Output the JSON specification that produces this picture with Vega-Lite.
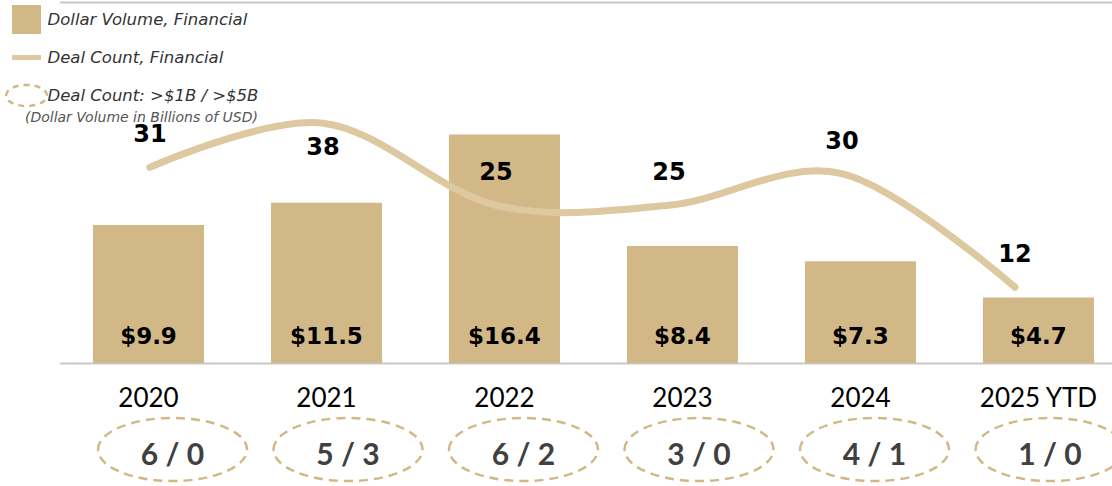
{
  "$schema": "https://vega.github.io/schema/vega-lite/v6.json",
  "padding": {"left": 11.5, "top": 2, "right": 0, "bottom": 0},
  "background": "white",
  "config": {
    "view": {"stroke": null},
    "font": "Lato",
    "legend": {
      "orient": "none", "legendX": -47.5, "legendY": 3, "padding": 0,
      "titleOrient": "bottom", "titleAnchor": "end",
      "titleFont": "DejaVu Sans", "titleFontSize": 14, "titleFontStyle": "italic", "titleFontWeight": "normal", "titleColor": "#555555", "titlePadding": 0, "titleLimit": 500,
      "labelFont": "DejaVu Sans", "labelFontSize": 16.5, "labelFontStyle": "italic", "labelColor": "#333333", "labelOffset": 6.5, "labelLimit": 400,
      "symbolSize": 676, "rowPadding": 2, "symbolOpacity": 1, "symbolStrokeWidth": 2.5, "gridAlign": "all"
    }
  },
  "datasets": {
    "deals": [
      {"year": "2020", "volume": 9.9, "count": 31, "big": "6 / 0"},
      {"year": "2021", "volume": 11.5, "count": 38, "big": "5 / 3"},
      {"year": "2022", "volume": 16.4, "count": 25, "big": "6 / 2"},
      {"year": "2023", "volume": 8.4, "count": 25, "big": "3 / 0"},
      {"year": "2024", "volume": 7.3, "count": 30, "big": "4 / 1"},
      {"year": "2025 YTD", "volume": 4.7, "count": 12, "big": "1 / 0"}
    ],
    "legend": [
      {"series": "Dollar Volume, Financial"},
      {"series": "Deal Count, Financial"},
      {"series": "Deal Count: >$1B / >$5B"}
    ]
  },
  "spacing": 1,
  "vconcat": [
    {
      "width": 1053,
      "height": 361,
      "layer": [
        {
          "data": {"name": "deals"},
          "encoding": {
            "x": {
              "field": "year", "type": "ordinal", "sort": null,
              "scale": {"paddingInner": 0.376, "paddingOuter": 0.146, "align": 0.644},
              "axis": {"title": null, "labelAngle": 0, "labelFont": "Lato", "labelFontSize": 26, "labelColor": "#000000", "labelPadding": 22, "ticks": false, "domainColor": "#C8C8C8", "domainWidth": 2}
            }
          },
          "layer": [
            {
              "mark": {"type": "bar", "color": "#D3B887"},
              "encoding": {
                "y": {
                  "field": "volume", "type": "quantitative",
                  "scale": {"domain": [0, 25.9], "nice": false},
                  "axis": {"title": null, "values": [25.9], "grid": true, "gridColor": "#C8C8C8", "gridWidth": 2, "labels": false, "ticks": false, "domain": false}
                }
              }
            },
            {
              "mark": {"type": "text", "font": "DejaVu Sans", "fontSize": 23, "fontWeight": "bold", "color": "#000000", "baseline": "middle", "dy": -26},
              "encoding": {
                "y": {"datum": 0, "type": "quantitative"},
                "text": {"field": "volume", "type": "quantitative", "format": "$.1f"}
              }
            }
          ]
        },
        {
          "data": {"name": "deals"},
          "encoding": {
            "x": {
              "field": "year", "type": "ordinal", "sort": null,
              "scale": {"type": "point", "padding": 0.543, "align": 0.481},
              "axis": null
            },
            "y": {
              "field": "count", "type": "quantitative",
              "scale": {"domain": [0, 57.2], "nice": false},
              "axis": null
            }
          },
          "layer": [
            {
              "mark": {"type": "line", "interpolate": "cardinal", "color": "#DDC8A0", "strokeWidth": 7, "strokeCap": "round"}
            },
            {
              "transform": [{"filter": "datum.year !== '2021'"}],
              "mark": {"type": "text", "font": "DejaVu Sans", "fontSize": 24, "fontWeight": "bold", "color": "#000000", "baseline": "middle", "dy": -32},
              "encoding": {"text": {"field": "count", "type": "quantitative"}}
            },
            {
              "transform": [{"filter": "datum.year === '2021'"}],
              "mark": {"type": "text", "font": "DejaVu Sans", "fontSize": 24, "fontWeight": "bold", "color": "#000000", "baseline": "middle", "dy": 25},
              "encoding": {"text": {"field": "count", "type": "quantitative"}}
            }
          ]
        },
        {
          "data": {"name": "legend"},
          "mark": {"type": "point", "opacity": 0, "strokeWidth": 2.5},
          "encoding": {
            "shape": {
              "field": "series", "type": "nominal", "sort": null,
              "scale": {
                "domain": ["Dollar Volume, Financial", "Deal Count, Financial", "Deal Count: >$1B / >$5B"],
                "range": [
                  "M -1.115 -1.115 H 1.115 V 1.115 H -1.115 Z",
                  "M -1.115 -0.19 H 1.115 V 0.19 H -1.115 Z",
                  "M -1.577 0 C -1.577 -0.447 -0.871 -0.81 0 -0.81 C 0.871 -0.81 1.577 -0.447 1.577 0 C 1.577 0.447 0.871 0.81 0 0.81 C -0.871 0.81 -1.577 0.447 -1.577 0 Z"
                ]
              },
              "legend": {"title": "(Dollar Volume in Billions of USD)"}
            },
            "fill": {
              "field": "series", "type": "nominal", "sort": null,
              "scale": {
                "domain": ["Dollar Volume, Financial", "Deal Count, Financial", "Deal Count: >$1B / >$5B"],
                "range": ["#D3B887", "#DDC8A0", "transparent"]
              },
              "legend": {"title": "(Dollar Volume in Billions of USD)"}
            },
            "stroke": {
              "field": "series", "type": "nominal", "sort": null,
              "scale": {
                "domain": ["Dollar Volume, Financial", "Deal Count, Financial", "Deal Count: >$1B / >$5B"],
                "range": ["transparent", "transparent", "#D3B887"]
              },
              "legend": {"title": "(Dollar Volume in Billions of USD)"}
            },
            "strokeDash": {
              "field": "series", "type": "nominal", "sort": null,
              "scale": {
                "domain": ["Dollar Volume, Financial", "Deal Count, Financial", "Deal Count: >$1B / >$5B"],
                "range": [[1, 0], [1, 0], [6, 5]]
              },
              "legend": {"title": "(Dollar Volume in Billions of USD)"}
            }
          }
        }
      ],
      "resolve": {"scale": {"x": "independent", "y": "independent"}}
    },
    {
      "width": 1053,
      "height": 63,
      "data": {"name": "deals"},
      "encoding": {
        "x": {
          "field": "year", "type": "ordinal", "sort": null,
          "scale": {"paddingInner": 0.376, "paddingOuter": 0.146, "align": 0.644},
          "axis": null
        }
      },
      "layer": [
        {
          "mark": {"type": "point", "shape": "M -1 0 A 1 0.423 0 1 1 1 0 A 1 0.423 0 1 1 -1 0 Z", "size": 22201, "filled": false, "stroke": "#D3B887", "strokeWidth": 2.5, "strokeDash": [9, 6], "opacity": 1}
        },
        {
          "mark": {"type": "text", "font": "Lato", "fontSize": 30, "fontWeight": "bold", "color": "#404040", "baseline": "middle", "dy": 6},
          "encoding": {"text": {"field": "big", "type": "nominal"}}
        }
      ]
    }
  ]
}
